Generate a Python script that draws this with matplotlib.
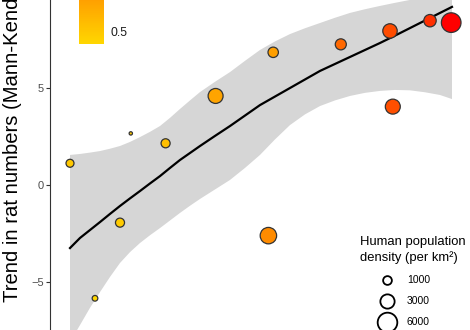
import numpy as np
import matplotlib
matplotlib.use('Agg')
import matplotlib.pyplot as plt
from matplotlib.colors import LinearSegmentedColormap, Normalize
from matplotlib.cm import ScalarMappable

plt.rcParams['font.family'] = ['Liberation Sans', 'DejaVu Sans']

# cities: x position, trend, human density, colour variable
x_pts = [0.5, 1.125, 1.75, 2.02, 2.89, 4.14, 5.46, 5.58, 7.27, 8.5, 8.57, 9.5, 10.03]
trend = [1.12, -5.84, -1.94, 2.66, 2.15, 4.59, -2.61, 6.84, 7.25, 7.94, 4.04, 8.47, 8.37]
density = [1350, 600, 1800, 150, 1800, 5400, 6600, 2450, 2800, 5000, 5400, 3600, 9600]
colour_val = [0.50, 0.46, 0.49, 0.50, 0.52, 0.59, 0.65, 0.60, 0.74, 0.81, 0.80, 0.88, 1.00]

# smoother + confidence band
x_fit = [0.5, 0.75, 1.0, 1.25, 1.5, 1.75, 2.0, 2.25, 2.5, 2.75, 3.0, 3.25, 3.5, 3.75, 4.125, 4.5,
         4.875, 5.25, 5.625, 6.0, 6.375, 6.75, 7.125, 7.5, 7.875, 8.25, 8.625, 9.0, 9.375, 9.75, 10.05]
fit = [-3.25, -2.73, -2.32, -1.91, -1.49, -1.08, -0.69, -0.31, 0.08, 0.46, 0.88, 1.29, 1.65, 2.01,
       2.53, 3.04, 3.58, 4.12, 4.56, 5.0, 5.44, 5.88, 6.24, 6.60, 6.96, 7.32, 7.70, 8.09, 8.48, 8.87, 9.18]
fit_hi = [1.55, 1.60, 1.67, 1.75, 1.87, 2.01, 2.22, 2.47, 2.74, 3.04, 3.46, 3.92, 4.36, 4.79,
          5.32, 5.82, 6.40, 6.96, 7.40, 7.78, 8.08, 8.35, 8.62, 8.87, 9.06, 9.23, 9.39, 9.54, 9.75, 9.95, 10.15]
fit_lo = [-8.09, -7.22, -6.33, -5.52, -4.74, -4.02, -3.46, -2.99, -2.59, -2.22, -1.83, -1.44, -1.07,
          -0.72, -0.23, 0.26, 0.88, 1.55, 2.35, 3.09, 3.64, 4.07, 4.36, 4.59, 4.75, 4.85, 4.90, 4.88,
          4.78, 4.64, 4.43]

legend_sizes = [1000, 3000, 6000]
y_ticks = [-5, 0, 5]
cbar_ticks = [0.5]


def marker_area(d):
    diam = 2.0 + 0.19 * np.sqrt(np.asarray(d, dtype=float))  # pixels
    return ((diam - 1.0) * 0.72) ** 2


cmap = LinearSegmentedColormap.from_list('goldred', ['#FFD700', '#FF0000'])
norm = Normalize(vmin=min(colour_val), vmax=max(colour_val))

W, H = 470, 330
fig = plt.figure(figsize=(W / 100, H / 100), dpi=100)
ax = fig.add_axes([50 / W, 0, 1 - 50 / W, 1])

ax.fill_between(x_fit, fit_lo, fit_hi, color='#d6d6d6', lw=0, zorder=1)
ax.plot(x_fit, fit, color='black', lw=1.6, zorder=2)
ax.scatter(x_pts, trend, s=marker_area(density), c=colour_val, cmap=cmap, norm=norm,
           edgecolors='#333333', linewidths=0.9, zorder=3)

ax.set_xlim(0, 10.5)
ax.set_ylim(-7.474, 9.536)
ax.set_yticks(y_ticks)
ax.set_yticklabels([str(t).replace('-', '\u2212') for t in y_ticks])
ax.tick_params(axis='y', length=3, width=0.8, color='#333333', pad=1.5,
               labelsize=8, labelcolor='#4d4d4d')
ax.set_xticks([])
for side in ['top', 'right', 'bottom']:
    ax.spines[side].set_visible(False)
ax.spines['left'].set_color('#333333')
ax.spines['left'].set_linewidth(0.8)
ax.patch.set_alpha(0)

fig.text(12 / W, 1 - 302 / H, 'Trend in rat numbers (Mann-Kendall tau)', rotation=90,
         rotation_mode='anchor', ha='left', va='center', fontsize=14.6)

# colour bar (cropped at the top)
cax = fig.add_axes([78.7 / W, 1 - 44.3 / H, 25.3 / W, 172 / H])
cb = fig.colorbar(ScalarMappable(norm=norm, cmap=cmap), cax=cax, ticks=cbar_ticks)
cb.outline.set_visible(False)
cb.ax.set_yticklabels(['%g' % t for t in cbar_ticks])
cax.tick_params(length=0, pad=4.8, labelsize=8.8, labelcolor='#1a1a1a')

# size legend
fig.text(360 / W, 1 - 250 / H, 'Human population\ndensity (per km\u00b2)', ha='left', va='center',
         fontsize=9.4, linespacing=1.4)
handles = [ax.scatter([], [], s=marker_area(d), facecolor='white', edgecolor='black', linewidths=1.3)
           for d in legend_sizes]
ax.legend(handles, [str(d) for d in legend_sizes], loc='upper left',
          bbox_to_anchor=(377 / W, 1 - 275 / H), bbox_transform=fig.transFigure,
          frameon=False, borderpad=0, borderaxespad=0, fontsize=7.5, markerscale=1.25,
          handlelength=2.0, handletextpad=0.87, labelspacing=1.05, scatterpoints=1)

fig.savefig('out.png', dpi=100)
